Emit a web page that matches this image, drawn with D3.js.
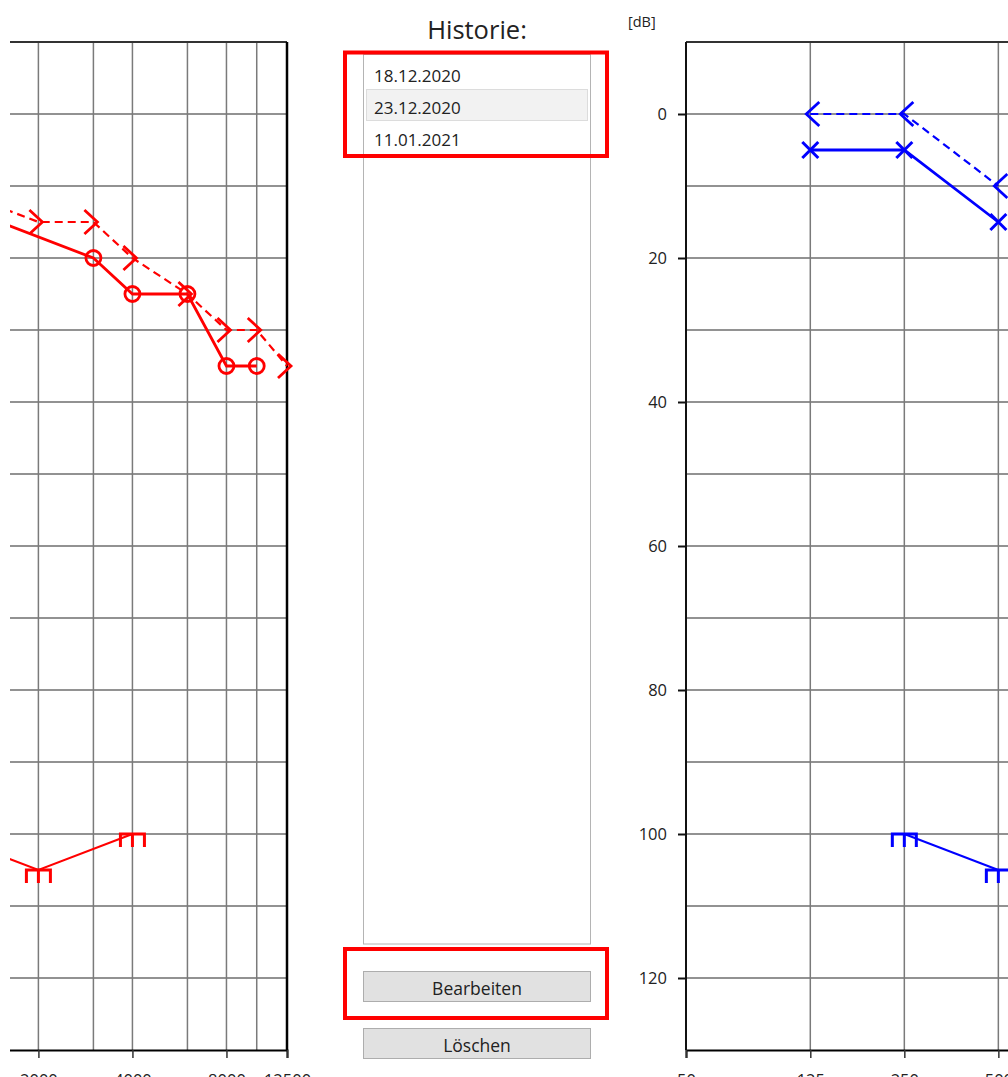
<!DOCTYPE html>
<html><head><meta charset="utf-8">
<script src="https://cdn.jsdelivr.net/npm/d3@7"></script>
<style>
body{margin:0;background:#fff;overflow:hidden;}
svg{display:block;font-family:"Open Sans","Noto Sans",sans-serif;}
</style>
</head><body>
<svg id="c" width="1008" height="1077"></svg>
<script>
// ---------- data ----------
const freqTicks = [50, 125, 250, 500, 1000, 2000, 4000, 8000, 12500];
const freqTickLabels = ["50", "125", "250", "500", "1000", "2000", "4000", "8000", "12500"];
const gridFreqs = [125, 250, 500, 750, 1000, 1500, 2000, 3000, 4000, 6000, 8000, 10000];
const dbTicks = [0, 20, 40, 60, 80, 100, 120];
const dbGrid = [0, 10, 20, 30, 40, 50, 60, 70, 80, 90, 100, 110, 120];

// right ear (red, left panel)
const redAirFreq = [1500, 3000, 4000, 6000, 8000, 10000];
const redAirDb = [15, 20, 25, 25, 35, 35];
const redBoneFreq = [1000, 2000, 3000, 4000, 6000, 8000, 10000, 12500];
const redBoneDb = [10, 15, 15, 20, 25, 30, 30, 35];
const redUclFreq = [1000, 2000, 4000];
const redUclDb = [100, 105, 100];

// left ear (blue, right panel)
const blueAirFreq = [125, 250, 500];
const blueAirDb = [5, 5, 15];
const blueBoneFreq = [125, 250, 500];
const blueBoneDb = [0, 0, 10];
const blueUclFreq = [250, 500];
const blueUclDb = [100, 105];

const historyTitle = "Historie:";
const historyDates = ["18.12.2020", "23.12.2020", "11.01.2021"];
const selectedIndex = 1;
const buttonLabels = ["Bearbeiten", "Löschen"];

// ---------- drawing ----------
const svg = d3.select("#c");
const W = 749, H = 1008, TOP = 42, VIEW_W = 1008;
const zip = (f, v) => f.map((d, i) => ({f: d, v: v[i]}));

function panel(ox, clipLeft, color, airMarker, boneDir, air, bone, ucl, showYAxis) {
  const x = d3.scaleLog().base(2).domain([50, 12500]).range([ox, ox + W]);
  const y = d3.scaleLinear().domain([-10, 130]).range([TOP, TOP + H]);
  const g = svg.append("g");
  if (clipLeft !== null) {
    const id = "clipL";
    svg.append("clipPath").attr("id", id).append("rect")
      .attr("x", clipLeft).attr("y", 0).attr("width", 400).attr("height", 1077);
    g.attr("clip-path", `url(#${id})`);
  }
  const [x0, x1] = x.range();
  // horizontal grid
  g.selectAll(".hg").data(dbGrid).join("line")
    .attr("x1", x0).attr("x2", x1).attr("y1", d => y(d)).attr("y2", d => y(d))
    .attr("stroke", "#6e6e6e").attr("stroke-width", 1.3);
  // vertical grid
  g.selectAll(".vg").data(gridFreqs).join("line")
    .attr("x1", d => x(d)).attr("x2", d => x(d)).attr("y1", TOP).attr("y2", TOP + H)
    .attr("stroke", "#7a7a7a").attr("stroke-width", 1.5);
  // top border
  g.append("line").attr("x1", x0).attr("x2", x1).attr("y1", TOP).attr("y2", TOP)
    .attr("stroke", "#333").attr("stroke-width", 2);
  // right border
  g.append("line").attr("x1", x1).attr("x2", x1).attr("y1", TOP).attr("y2", TOP + H)
    .attr("stroke", "#000").attr("stroke-width", 2.5);

  // x axis (only ticks that fall inside the visible window)
  const visTicks = freqTicks.filter(f => x(f) >= -5 && x(f) <= VIEW_W + 5);
  const xAxis = d3.axisBottom(x).tickValues(visTicks)
    .tickFormat(d => freqTickLabels[freqTicks.indexOf(d)]).tickSize(8).tickPadding(16);
  const xa = g.append("g").attr("transform", `translate(0,${TOP + H})`).call(xAxis);
  xa.select(".domain").attr("stroke", "#000").attr("stroke-width", 2);
  xa.selectAll(".tick line").attr("stroke", "#333").attr("stroke-width", 1.5);
  xa.selectAll("text").attr("font-size", 16.5).attr("fill", "#222").attr("font-family", '"Open Sans","Noto Sans",sans-serif');

  // y axis
  if (showYAxis) {
    const yAxis = d3.axisLeft(y).tickValues(dbTicks).tickSize(8).tickPadding(11);
    const ya = g.append("g").attr("transform", `translate(${x0},0)`).call(yAxis);
    ya.select(".domain").remove();
    ya.append("line").attr("x1", 0).attr("x2", 0).attr("y1", TOP).attr("y2", TOP + H)
      .attr("stroke", "#111").attr("stroke-width", 2);
    ya.selectAll(".tick line").attr("stroke", "#111").attr("stroke-width", 2);
    ya.selectAll("text").attr("font-size", 16.5).attr("fill", "#222").attr("font-family", '"Open Sans","Noto Sans",sans-serif');
    g.append("text").attr("x", x0 - 58).attr("y", 27).attr("font-size", 14.5)
      .attr("fill", "#222").text("[dB]");
  }

  const line = d3.line().x(d => x(d.f)).y(d => y(d.v));
  // UCL
  g.append("path").datum(ucl).attr("d", line).attr("fill", "none")
    .attr("stroke", color).attr("stroke-width", 2);
  // bone (dashed)
  g.append("path").datum(bone).attr("d", line).attr("fill", "none")
    .attr("stroke", color).attr("stroke-width", 2.2).attr("stroke-dasharray", "8,5");
  // air (solid)
  g.append("path").datum(air).attr("d", line).attr("fill", "none")
    .attr("stroke", color).attr("stroke-width", 2.8);

  // UCL markers
  g.selectAll(".ucl").data(ucl).join("path")
    .attr("d", d => {
      const cx = x(d.f), cy = y(d.v);
      return `M${cx - 12},${cy + 13}V${cy}H${cx + 12}V${cy + 13}M${cx},${cy}V${cy + 13}`;
    })
    .attr("fill", "none").attr("stroke", color).attr("stroke-width", 3);
  // bone markers (chevrons)
  g.selectAll(".bone").data(bone).join("path")
    .attr("d", d => {
      const cx = x(d.f) + boneDir * 4, cy = y(d.v);
      return `M${cx - boneDir * 13},${cy - 12}L${cx},${cy}L${cx - boneDir * 13},${cy + 12}`;
    })
    .attr("fill", "none").attr("stroke", color).attr("stroke-width", 2.8);
  // air markers
  if (airMarker === "circle") {
    g.selectAll(".air").data(air).join("circle")
      .attr("cx", d => x(d.f)).attr("cy", d => y(d.v)).attr("r", 7.5)
      .attr("fill", "none").attr("stroke", color).attr("stroke-width", 2.8);
  } else {
    g.selectAll(".air").data(air).join("path")
      .attr("d", d => {
        const cx = x(d.f), cy = y(d.v), s = 8;
        return `M${cx - s},${cy - s}L${cx + s},${cy + s}M${cx + s},${cy - s}L${cx - s},${cy + s}`;
      })
      .attr("fill", "none").attr("stroke", color).attr("stroke-width", 3);
  }
}

panel(287 - W, 10, "#ff0000", "circle", 1,
  zip(redAirFreq, redAirDb), zip(redBoneFreq, redBoneDb), zip(redUclFreq, redUclDb), false);
panel(686, null, "#0000ff", "x", -1,
  zip(blueAirFreq, blueAirDb), zip(blueBoneFreq, blueBoneDb), zip(blueUclFreq, blueUclDb), true);

// ---------- history panel ----------
const mid = svg.append("g").attr("font-family", '"Open Sans","Noto Sans",sans-serif');
mid.append("text").attr("x", 477).attr("y", 39).attr("text-anchor", "middle")
  .attr("font-size", 25.5).attr("fill", "#222").text(historyTitle);
mid.append("rect").attr("x", 363.5).attr("y", 54.5).attr("width", 227).attr("height", 889.5)
  .attr("fill", "#fff").attr("stroke", "#b4b4b4").attr("stroke-width", 1);
mid.append("rect").attr("x", 366.5).attr("y", 89.5).attr("width", 221).attr("height", 31)
  .attr("fill", "#f2f2f2").attr("stroke", "#dcdcdc").attr("stroke-width", 1)
  .attr("transform", `translate(0,${(selectedIndex - 1) * 32})`);
mid.selectAll(".date").data(historyDates).join("text")
  .attr("x", 374).attr("y", (d, i) => 81.5 + i * 32)
  .attr("font-size", 17).attr("fill", "#222").text(d => d);

const btnY = [971, 1028];
buttonLabels.forEach((b, i) => {
  mid.append("rect").attr("x", 363.5).attr("y", btnY[i] + 0.5).attr("width", 227).attr("height", 30)
    .attr("fill", "#e1e1e1").attr("stroke", "#adadad").attr("stroke-width", 1);
  mid.append("text").attr("x", 477).attr("y", btnY[i] + 23.5).attr("text-anchor", "middle")
    .attr("font-size", 17.5).attr("fill", "#222").text(b);
});

// red highlight frames
mid.append("rect").attr("x", 345).attr("y", 52.5).attr("width", 262).attr("height", 103.5)
  .attr("fill", "none").attr("stroke", "#ff0000").attr("stroke-width", 4);
mid.append("rect").attr("x", 345).attr("y", 949).attr("width", 262).attr("height", 69)
  .attr("fill", "none").attr("stroke", "#ff0000").attr("stroke-width", 4);
</script>
</body></html>
